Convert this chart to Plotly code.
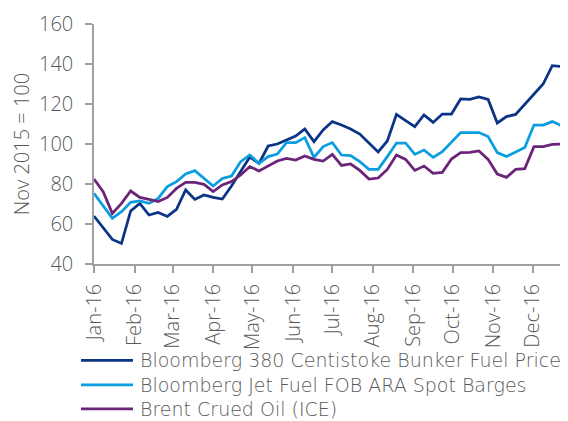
import pandas as pd
import plotly.graph_objects as go

dates = pd.date_range("2016-01-01", periods=53, freq="7D")

bunker = [64, 58, 52.3, 50.3, 66.5, 70.3, 64.5, 65.8, 63.8, 67.3,
          77, 72.3, 74.5, 73.3, 72.5, 79, 86, 93.5, 90.3, 99,
          100, 102, 104, 107.5, 101.2, 107, 111.2, 109.5, 107.5, 105,
          100.5, 96, 101.5, 114.8, 111.7, 108.7, 114.5, 110.8, 115, 115,
          122.5, 122.3, 123.5, 122.3, 110.5, 113.7, 114.8, 120, 125.3, 130,
          139.2, 138.8, 143.3]
jet = [75.3, 69, 62.8, 66.2, 70.8, 71.5, 70.3, 72.8, 78.7, 81.2,
       85, 86.7, 82.8, 79, 82.8, 84, 91.2, 94.5, 90.3, 93.7,
       95, 100.7, 100.7, 103.2, 93.3, 98.7, 100.7, 94.5, 94.2, 91.2,
       87.3, 87.3, 93.7, 100.5, 100.5, 94.8, 97, 93.3, 96.2, 101.2,
       105.7, 105.7, 105.7, 103.7, 95.7, 93.7, 96.2, 98.3, 109.5, 109.5,
       111.2, 109.2, 113.5]
brent = [82.5, 76.2, 65.3, 70.3, 76.5, 73.3, 72.3, 71.2, 73.3, 77.8,
         80.8, 80.8, 79.8, 76.2, 79.5, 81.2, 84.5, 88.7, 86.5, 89.2,
         91.5, 92.8, 92, 94, 92.3, 91.5, 94.8, 89.3, 90, 86.8,
         82.5, 83, 87.3, 94.5, 92.3, 86.8, 89, 85.3, 85.8, 92.5,
         95.7, 95.8, 96.5, 92.3, 85, 83.3, 87.3, 87.7, 98.7, 98.7,
         99.8, 100, 102]

names = ["Bloomberg 380 Centistoke Bunker Fuel Price",
         "Bloomberg Jet Fuel FOB ARA Spot Barges",
         "Brent Crued Oil (ICE)"]
colors = ["#0b3486", "#0a9ddf", "#6b2479"]
series = [bunker, jet, brent]

FONT = "Open Sans"
LEG_FONT = "DejaVu Sans"
GREY = "#595959"
AXIS = "#a0a0a0"
LW = 2.75

fig = go.Figure()
for n, c, s in zip(names, colors, series):
    fig.add_trace(go.Scatter(x=dates, y=s, mode="lines", name=n,
                             line=dict(color=c, width=LW)))

# custom legend (below the plot), positions in paper coordinates
leg_rows = [-0.402, -0.504, -0.604]
for n, c, yy in zip(names, colors, leg_rows):
    fig.add_shape(type="line", xref="paper", yref="paper",
                  x0=-0.0274, x1=0.0823, y0=yy, y1=yy,
                  line=dict(color=c, width=LW))
    fig.add_annotation(xref="paper", yref="paper", x=0.094, y=yy,
                       xanchor="left", yanchor="middle", showarrow=False,
                       borderpad=0,
                       text=n, font=dict(family=LEG_FONT, size=19, color=GREY, weight=200))

# page body has an 8px margin: figure is drawn 8px right/down of the window corner
fig.update_layout(
    width=560, height=413,
    margin=dict(l=86, r=0, t=16, b=157, autoexpand=False),
    paper_bgcolor="white", plot_bgcolor="white",
    font=dict(family=FONT, color=GREY, size=19, weight=300),
    showlegend=False,
)
fig.update_xaxes(
    type="date", range=["2016-01-01", "2016-12-28"],
    tick0="2016-01-01", dtick="M1", tickformat="%b-%y", tickangle=-90,
    showline=True, linecolor=AXIS, linewidth=1.5,
    ticks="outside", ticklen=7, tickcolor=AXIS, tickwidth=1.5,
    showgrid=False, zeroline=False, ticklabelstandoff=3,
    tickfont=dict(family=FONT, size=20, color=GREY, weight=300),
)
fig.update_yaxes(
    range=[40, 160], dtick=20, tick0=40,
    showline=True, linecolor=AXIS, linewidth=1.5,
    ticks="outside", ticklen=7, tickcolor=AXIS, tickwidth=1.5,
    showgrid=False, zeroline=False,
    ticklabelstandoff=8,
    tickfont=dict(family=FONT, size=20, color=GREY, weight=300),
    title=dict(text="Nov 2015 = 100", standoff=14,
               font=dict(family=FONT, size=20, color=GREY, weight=300)),
)

fig.write_html("out.html")
